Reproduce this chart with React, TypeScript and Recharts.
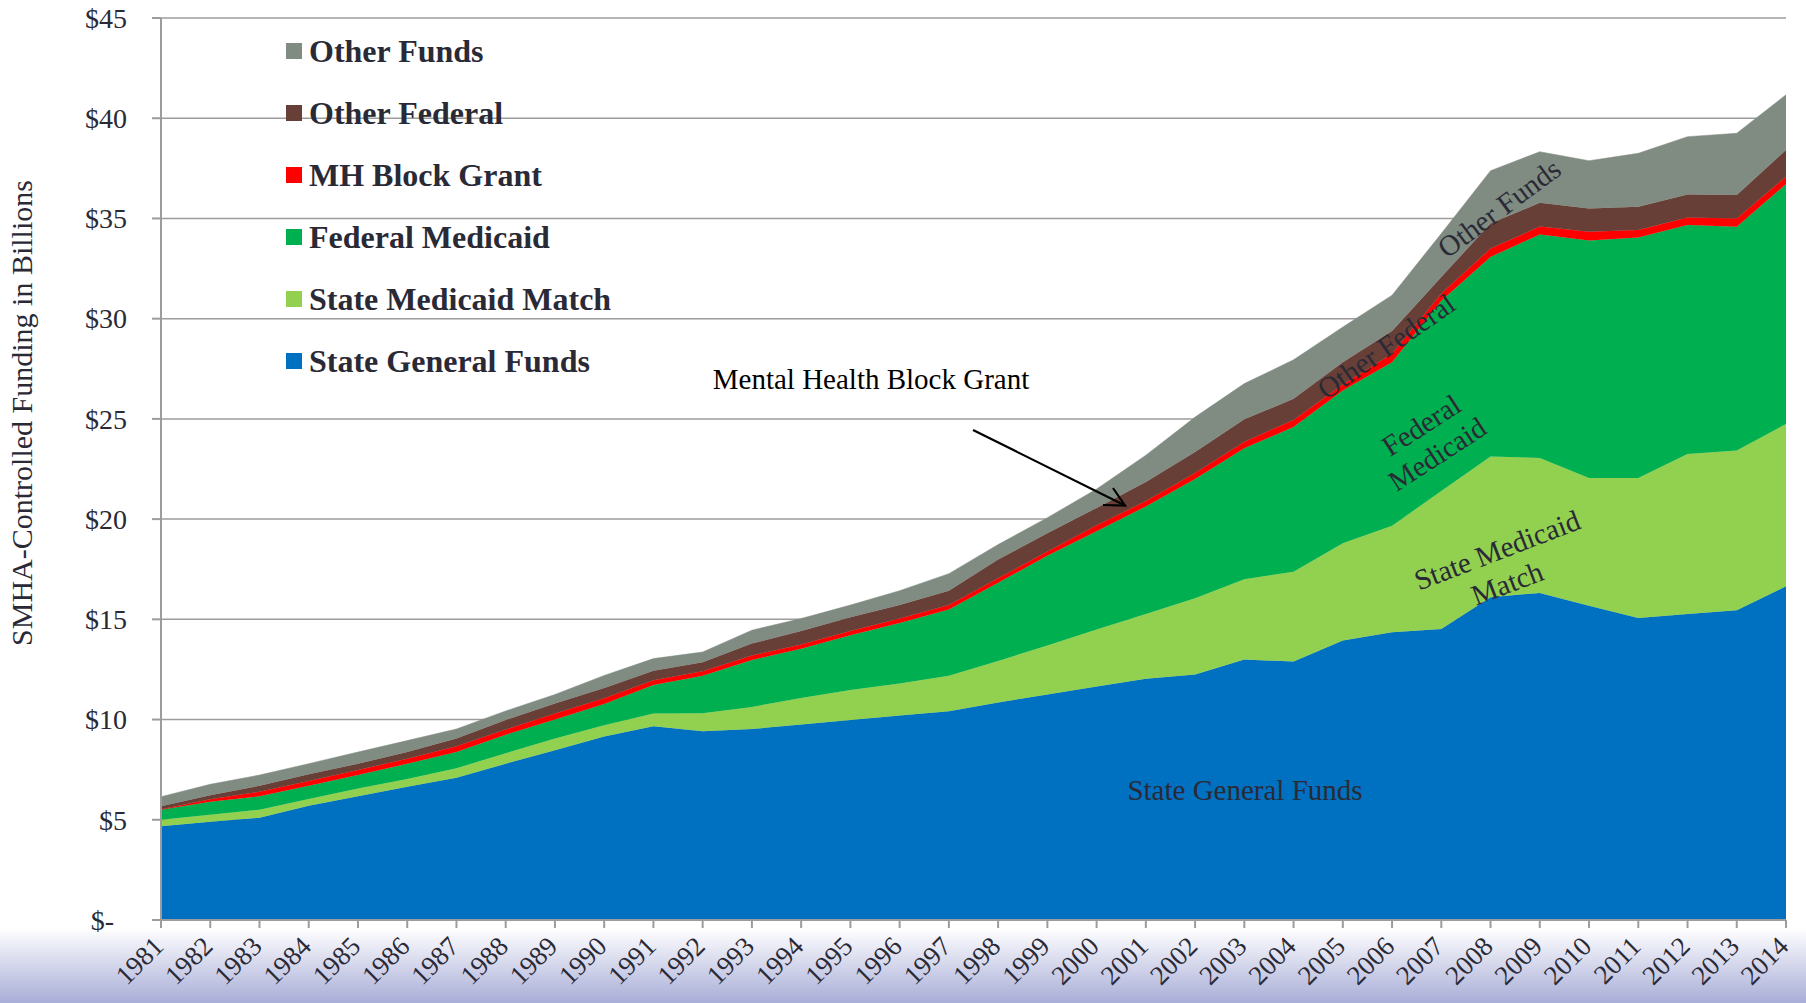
import React from 'react'
import {
  AreaChart,
  Area,
  XAxis,
  YAxis,
  CartesianGrid,
  Legend,
} from 'recharts'

// values in $ billions (each series is its own band, stacked)
const years = [
  '1981', '1982', '1983', '1984', '1985', '1986', '1987', '1988', '1989', '1990',
  '1991', '1992', '1993', '1994', '1995', '1996', '1997', '1998', '1999', '2000',
  '2001', '2002', '2003', '2004', '2005', '2006', '2007', '2008', '2009', '2010',
  '2011', '2012', '2013', '2014',
]

const stateGeneralFunds = [
  4.68, 4.9, 5.1, 5.7, 6.17, 6.65, 7.1, 7.8, 8.47, 9.15,
  9.66, 9.42, 9.53, 9.75, 9.98, 10.2, 10.42, 10.85, 11.25, 11.65,
  12.03, 12.25, 12.99, 12.9, 13.94, 14.35, 14.52, 16.1, 16.32, 15.68,
  15.07, 15.27, 15.45, 16.65,
]

const stateMedicaidMatch = [
  0.32, 0.35, 0.4, 0.34, 0.39, 0.39, 0.47, 0.52, 0.58, 0.57,
  0.64, 0.89, 1.1, 1.32, 1.49, 1.6, 1.77, 2.07, 2.45, 2.84,
  3.24, 3.8, 4.01, 4.48, 4.86, 5.32, 6.88, 7.02, 6.73, 6.37,
  6.98, 7.98, 7.97, 8.1,
]

const federalMedicaid = [
  0.5, 0.65, 0.67, 0.66, 0.67, 0.76, 0.81, 0.92, 0.95, 1.05,
  1.43, 1.88, 2.34, 2.46, 2.73, 3.02, 3.3, 3.91, 4.47, 4.91,
  5.36, 5.95, 6.53, 7.22, 7.62, 8.16, 9.5, 9.96, 11.15, 11.85,
  12.0, 11.42, 11.16, 11.97,
]

const mhBlockGrant = [
  0.03, 0.12, 0.23, 0.24, 0.25, 0.25, 0.29, 0.26, 0.3, 0.29,
  0.23, 0.22, 0.22, 0.22, 0.22, 0.22, 0.22, 0.22, 0.22, 0.29,
  0.27, 0.3, 0.33, 0.35, 0.3, 0.42, 0.35, 0.42, 0.4, 0.43,
  0.37, 0.38, 0.42, 0.36,
]

const otherFederal = [
  0.15, 0.2, 0.3, 0.33, 0.32, 0.33, 0.38, 0.48, 0.5, 0.52,
  0.48, 0.45, 0.6, 0.67, 0.69, 0.67, 0.72, 0.94, 0.9, 0.87,
  0.95, 1.05, 1.12, 1.05, 1.11, 1.13, 0.83, 1.25, 1.18, 1.17,
  1.16, 1.15, 1.17, 1.34,
]

const otherFunds = [
  0.47, 0.55, 0.53, 0.53, 0.58, 0.57, 0.48, 0.45, 0.45, 0.62,
  0.6, 0.51, 0.67, 0.62, 0.6, 0.72, 0.85, 0.74, 0.78, 0.94,
  1.34, 1.74, 1.78, 1.95, 1.75, 1.79, 2.17, 2.63, 2.55, 2.38,
  2.67, 2.88, 3.08, 2.75,
]

const yTicks = [0, 5, 10, 15, 20, 25, 30, 35, 40, 45]

// bottom to top
const series = [
  { key: 'sgf', name: 'State General Funds', color: '#0070C0' },
  { key: 'smm', name: 'State Medicaid Match', color: '#92D050' },
  { key: 'fm', name: 'Federal Medicaid', color: '#00B050' },
  { key: 'mhbg', name: 'MH Block Grant', color: '#FF0000' },
  { key: 'of', name: 'Other Federal', color: '#683F36' },
  { key: 'ofu', name: 'Other Funds', color: '#808B82' },
]

const data = years.map((year, i) => ({
  year,
  sgf: stateGeneralFunds[i],
  smm: stateMedicaidMatch[i],
  fm: federalMedicaid[i],
  mhbg: mhBlockGrant[i],
  of: otherFederal[i],
  ofu: otherFunds[i],
}))

const SERIF = '"Liberation Serif", "Times New Roman", serif'
const TEXT = '#2a2a36'
const GRID = '#9c9c9c'

const YTick = (props: any) => {
  const { x, y, payload } = props
  const zero = payload.value === 0
  return (
    <text
      x={zero ? x - 13 : x}
      y={y}
      dy="0.35em"
      textAnchor="end"
      fontFamily={SERIF}
      fontSize={28}
      fill={TEXT}
    >
      {zero ? '$-' : `$${payload.value}`}
    </text>
  )
}

const XTick = (props: any) => {
  const { x, y, payload } = props
  const tx = x + 4
  return (
    <text
      x={tx}
      y={y}
      textAnchor="end"
      fontFamily={SERIF}
      fontSize={27}
      fill={TEXT}
      transform={`rotate(-45, ${tx}, ${y})`}
    >
      {payload.value}
    </text>
  )
}

const LegendBox = () => (
  <div style={{ fontFamily: SERIF }}>
    {[...series].reverse().map((s) => (
      <div
        key={s.key}
        style={{ display: 'flex', alignItems: 'center', height: 62 }}
      >
        <span
          style={{
            width: 16,
            height: 16,
            background: s.color,
            display: 'inline-block',
            marginRight: 7,
          }}
        />
        <span style={{ fontSize: 32, fontWeight: 'bold', color: TEXT }}>
          {s.name}
        </span>
      </div>
    ))}
  </div>
)

export default function App() {
  return (
    <div
      style={{
        position: 'fixed',
        top: 0,
        left: 0,
        width: 1806,
        height: 1003,
        background: '#fff',
        overflow: 'hidden',
      }}
    >
      <div
        style={{
          position: 'absolute',
          left: 0,
          top: 928,
          width: 1806,
          height: 75,
          background: 'linear-gradient(#ffffff, #a8add7)',
        }}
      />
      <div style={{ position: 'absolute', left: 0, top: 0 }}>
        <AreaChart
          width={1806}
          height={1003}
          data={data}
          margin={{ top: 18, right: 20, bottom: 23, left: 0 }}
        >
          <CartesianGrid vertical={false} stroke={GRID} strokeWidth={1.5} />
          <XAxis
            dataKey="year"
            interval={0}
            height={60}
            tickSize={8}
            tickMargin={20}
            stroke={GRID}
            strokeWidth={2}
            tick={<XTick />}
          />
          <YAxis
            width={161}
            domain={[0, 45]}
            ticks={yTicks}
            tickSize={9}
            tickMargin={25}
            stroke={GRID}
            strokeWidth={2}
            tick={<YTick />}
          />
          <Legend
            layout="vertical"
            align="center"
            verticalAlign="middle"
            content={<LegendBox />}
            wrapperStyle={{ left: 286, top: 20, width: 400, height: 372 }}
          />
          {series.map((s) => (
            <Area
              key={s.key}
              type="linear"
              dataKey={s.key}
              name={s.name}
              stackId="funds"
              fill={s.color}
              fillOpacity={1}
              stroke={s.color}
              strokeWidth={0.5}
              isAnimationActive={false}
            />
          ))}
        </AreaChart>
      </div>
      <svg
        width={1806}
        height={1003}
        style={{ position: 'absolute', left: 0, top: 0, pointerEvents: 'none' }}
        fontFamily={SERIF}
      >
        <text
          x={32}
          y={413}
          textAnchor="middle"
          fontSize={30}
          fill={TEXT}
          transform="rotate(-90, 32, 413)"
        >
          SMHA-Controlled Funding in Billions
        </text>
        <text x={871} y={389} textAnchor="middle" fontSize={29} fill="#000">
          Mental Health Block Grant
        </text>
        <line x1={973} y1={430} x2={1125} y2={505.5} stroke="#000" strokeWidth={2.2} />
        <polyline
          points="1103,505 1125,505.5 1113,488"
          fill="none"
          stroke="#000"
          strokeWidth={2.2}
        />
        <text x={1245} y={800} textAnchor="middle" fontSize={29} fill={TEXT}>
          State General Funds
        </text>
        <g fontSize={29} fill={TEXT} textAnchor="middle">
          <text x={1499} y={208} dy="0.35em" transform="rotate(-36.5, 1499, 208)">
            Other Funds
          </text>
          <text x={1386} y={346} dy="0.35em" transform="rotate(-35, 1386, 346)">
            Other Federal
          </text>
          <text x={1421} y={425} dy="0.35em" transform="rotate(-33, 1421, 425)">
            Federal
          </text>
          <text x={1437} y={454} dy="0.35em" transform="rotate(-33, 1437, 454)">
            Medicaid
          </text>
          <text x={1497} y={550} dy="0.35em" transform="rotate(-21, 1497, 550)">
            State Medicaid
          </text>
          <text x={1507} y={583} dy="0.35em" transform="rotate(-21, 1507, 583)">
            Match
          </text>
        </g>
      </svg>
    </div>
  )
}
